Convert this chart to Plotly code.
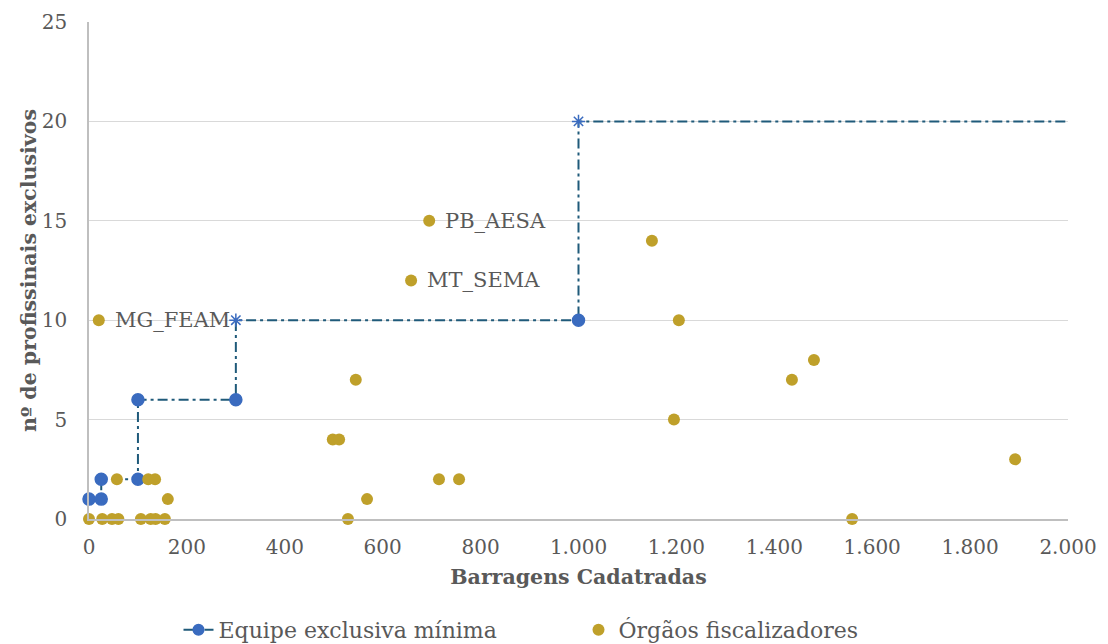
import plotly.graph_objects as go

# Equipe exclusiva minima (step line)
equipe_x = [0, 25, 25, 100, 100, 300, 300, 1000, 1000, 2000]
equipe_y = [1, 1, 2, 2, 6, 6, 10, 10, 20, 20]
equipe_symbols = ['circle', 'circle', 'circle', 'circle', 'circle', 'circle',
                  'asterisk-open', 'circle', 'asterisk-open', 'circle']
equipe_sizes = [12, 12, 12, 12, 12, 12, 11, 12, 11, 0]

# Orgaos fiscalizadores
orgaos_x = [0, 27, 47, 60, 106, 126, 136, 155, 57, 121, 135, 161,
            20, 695, 658, 1150, 1205, 1195, 1436, 1481, 1559, 1892,
            545, 498, 511, 568, 529, 715, 756]
orgaos_y = [0, 0, 0, 0, 0, 0, 0, 0, 2, 2, 2, 1,
            10, 15, 12, 14, 10, 5, 7, 8, 0, 3,
            7, 4, 4, 1, 0, 2, 2]

label_names = ['MG_FEAM', 'PB_AESA', 'MT_SEMA']
label_x = [20, 695, 658]
label_y = [10, 15, 12]

x_ticks = [0, 200, 400, 600, 800, 1000, 1200, 1400, 1600, 1800, 2000]
y_ticks = [0, 5, 10, 15, 20, 25]

FONT = 'DejaVu Serif'
GREY = '#595959'
BLUE = '#3A6BBF'
GOLD = '#BFA02A'
TEAL = '#1F5A7A'

fig = go.Figure()
fig.add_scatter(
    x=equipe_x, y=equipe_y, mode='lines+markers', name='Equipe exclusiva mínima',
    line=dict(color=TEAL, width=2, dash='10px,4px,3px,4px'),
    marker=dict(color=BLUE, symbol=equipe_symbols, size=equipe_sizes, opacity=1,
                line=dict(color=BLUE, width=1.5)),
    cliponaxis=False,
)
fig.add_scatter(
    x=orgaos_x, y=orgaos_y, mode='markers', name='Órgãos fiscalizadores',
    marker=dict(color=GOLD, size=12, opacity=1),
    cliponaxis=False,
)

for name, lx, ly in zip(label_names, label_x, label_y):
    fig.add_annotation(x=lx, y=ly, text=name, showarrow=False, xanchor='left',
                       xshift=14, font=dict(family=FONT, size=21, color=GREY))

# page has an 8px body margin, so the figure is drawn 8px smaller
fig.update_layout(
    width=1100, height=636,
    paper_bgcolor='white', plot_bgcolor='white',
    margin=dict(l=81, r=40, t=14, b=125),
    separators=',.',
    font=dict(family=FONT, color=GREY),
    showlegend=True,
    legend=dict(orientation='h', x=0.5, xanchor='center',
                yref='container', y=0.022, yanchor='middle',
                font=dict(family=FONT, size=22, color=GREY),
                entrywidth=355, entrywidthmode='pixels',
                traceorder='normal'),
)
fig.update_xaxes(
    range=[0, 2000], tickvals=x_ticks, separatethousands=True,
    showgrid=False, zeroline=False, automargin=False,
    showline=True, linecolor='#BFBFBF', linewidth=2,
    tickfont=dict(family=FONT, size=20, color=GREY), ticklabelstandoff=9,
    title=dict(text='<b>Barragens Cadatradas</b>', font=dict(family=FONT, size=20.5, color=GREY),
               standoff=12),
)
fig.update_yaxes(
    range=[0, 25], tickvals=y_ticks, automargin=False,
    showgrid=True, gridcolor='#D9D9D9', gridwidth=1, zeroline=False,
    showline=True, linecolor='#BFBFBF', linewidth=1.5,
    tickfont=dict(family=FONT, size=20, color=GREY), ticklabelstandoff=16,
    title=dict(text='<b>nº de profissinais exclusivos</b>', font=dict(family=FONT, size=20.5, color=GREY),
               standoff=0),
)

fig.write_html("out.html")
